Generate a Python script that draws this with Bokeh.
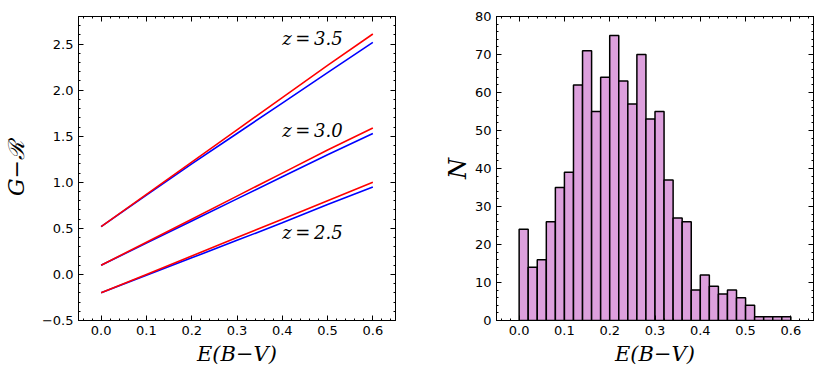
import numpy as np
from bokeh.plotting import figure
from bokeh.layouts import row
from bokeh.models import (LinearAxis, Range1d, SingleIntervalTicker, Label,
                          CustomJSTickFormatter)
from bokeh.embed import file_html
from bokeh.resources import INLINE

# ---- data: left panel (colour vs reddening) ----
ebv = [0.0, 0.1, 0.2, 0.3, 0.4, 0.5, 0.6]
z25_blue = [-0.20, -0.01, 0.18, 0.37, 0.56, 0.76, 0.95]
z25_red = [-0.20, 0.00, 0.20, 0.40, 0.60, 0.80, 1.00]
z30_blue = [0.10, 0.34, 0.58, 0.82, 1.06, 1.30, 1.53]
z30_red = [0.10, 0.35, 0.60, 0.85, 1.10, 1.35, 1.59]
z35_blue = [0.52, 0.86, 1.20, 1.53, 1.86, 2.19, 2.52]
z35_red = [0.52, 0.87, 1.22, 1.57, 1.92, 2.27, 2.61]
z_labels = ["z\u2009=\u20093.5", "z\u2009=\u20093.0", "z\u2009=\u20092.5"]
z_label_x = [0.40, 0.40, 0.40]
z_label_y = [2.56, 1.56, 0.46]

# ---- data: right panel (histogram of E(B-V)) ----
counts = [24, 14, 16, 26, 35, 39, 62, 71, 55, 64, 75, 63, 57, 70, 53,
          55, 37, 27, 26, 8, 12, 9, 7, 8, 6, 4, 1, 1, 1, 1]
bin_lo, bin_hi = 0.0, 0.6
edges = np.linspace(bin_lo, bin_hi, len(counts) + 1)

TICK_FONT = "DejaVu Sans"
TICK_SIZE = "13px"
LABEL_FONT = "DejaVu Serif"


def num_fmt(decimals):
    return CustomJSTickFormatter(
        code="var s = tick.toFixed(%d); if (Math.abs(tick) < 1e-9) s = (0).toFixed(%d);"
             " return s.replace('-', '\\u2212');" % (decimals, decimals))


def tick_style(ax):
    ax.major_tick_in = 5
    ax.major_tick_out = 0
    ax.minor_tick_in = 2
    ax.minor_tick_out = 0
    ax.axis_line_color = "black"
    ax.major_tick_line_color = "black"
    ax.minor_tick_line_color = "black"


def style(p, xstep, ystep, xlabel, ylabel, ydec):
    p.xgrid.visible = False
    p.ygrid.visible = False
    p.outline_line_color = "black"
    p.outline_line_width = 1
    p.background_fill_color = "white"
    p.border_fill_color = "white"
    xa = p.xaxis[0]
    ya = p.yaxis[0]
    for ax in (xa, ya):
        tick_style(ax)
        ax.major_label_text_font = TICK_FONT
        ax.major_label_text_font_size = TICK_SIZE
        ax.major_label_text_color = "black"
        ax.axis_label_text_font = LABEL_FONT
        ax.axis_label_text_font_style = "italic"
        ax.axis_label_text_color = "black"
    xa.ticker = SingleIntervalTicker(interval=xstep, num_minor_ticks=5)
    ya.ticker = SingleIntervalTicker(interval=ystep, num_minor_ticks=5)
    xa.formatter = num_fmt(1)
    ya.formatter = num_fmt(ydec)
    xa.axis_label = xlabel
    ya.axis_label = ylabel
    xa.axis_label_text_font_size = "21px"
    ya.axis_label_text_font_size = "22px"
    xa.axis_label_standoff = 4
    ya.axis_label_standoff = 10
    # mirrored ticks on top and right, no labels
    blank = CustomJSTickFormatter(code="return '';")
    top = LinearAxis(ticker=SingleIntervalTicker(interval=xstep, num_minor_ticks=5),
                     formatter=blank)
    right = LinearAxis(ticker=SingleIntervalTicker(interval=ystep, num_minor_ticks=5),
                       formatter=blank)
    for ax in (top, right):
        tick_style(ax)
        ax.major_label_standoff = 0
    p.add_layout(top, "above")
    p.add_layout(right, "right")


# ---- left panel ----
p1 = figure(width=412, height=368, output_backend="svg", toolbar_location=None,
            x_range=Range1d(-0.05, 0.65), y_range=Range1d(-0.5, 2.8),
            min_border_left=71, min_border_right=17, min_border_top=16,
            min_border_bottom=48)
style(p1, 0.1, 0.5, "E(B\u2212V)", "G\u2212\u211b", 1)

for b, r in ((z25_blue, z25_red), (z30_blue, z30_red), (z35_blue, z35_red)):
    p1.line(ebv, b, line_color="blue", line_width=1.6)
    p1.line(ebv, r, line_color="red", line_width=1.6)

for t, x, y in zip(z_labels, z_label_x, z_label_y):
    p1.add_layout(Label(x=x, y=y, text=t, text_font=LABEL_FONT,
                        text_font_style="italic", text_font_size="18px",
                        text_color="black", text_baseline="middle",
                        text_align="left"))

# ---- right panel ----
p2 = figure(width=403, height=368, output_backend="svg", toolbar_location=None,
            x_range=Range1d(-0.05, 0.65), y_range=Range1d(0, 80),
            min_border_left=84, min_border_right=2, min_border_top=16,
            min_border_bottom=48)
style(p2, 0.1, 10, "E(B\u2212V)", "N", 0)
p2.yaxis[0].axis_label_standoff = 0
p2.yaxis[0].axis_label_text_font_size = "24px"

p2.quad(left=edges[:-1], right=edges[1:], bottom=0, top=counts,
        fill_color="#dda0dd", line_color="black", line_width=1.5)

layout = row(p1, p2)
open("out.html", "w").write(file_html(layout, INLINE))
